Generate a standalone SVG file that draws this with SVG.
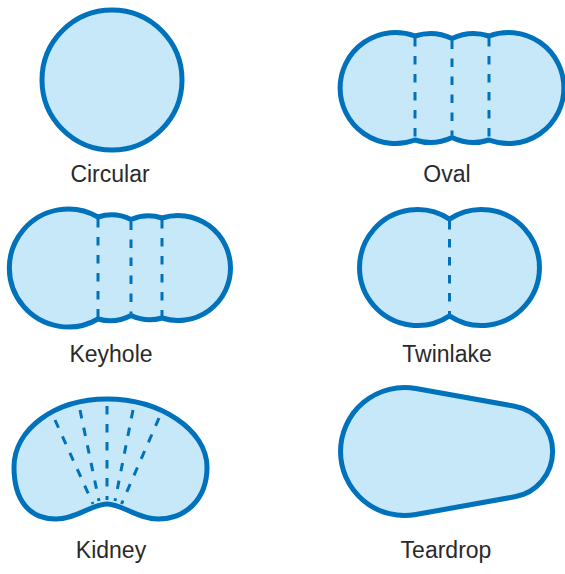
<svg xmlns="http://www.w3.org/2000/svg" width="565" height="574" viewBox="0 0 565 574">
  <style>
    .pool { fill: #c7e8f8; stroke: #0072bc; stroke-width: 5; stroke-linejoin: round; }
    .div { fill: none; stroke: #0072bc; stroke-width: 3; stroke-dasharray: 8.5 9.5; }
    .lbl { font-family: "Liberation Sans", Arial, sans-serif; font-size: 23px; fill: #2a2a2a; text-anchor: middle; }
  </style>
  <rect width="565" height="574" fill="#ffffff"/>

  <g id="circular">
    <circle class="pool" cx="112" cy="80" r="70"/>
    <text class="lbl" x="110" y="182">Circular</text>
  </g>

  <g id="oval">
    <path class="pool" d="M 415 36 A 50 50 0 0 1 452 38.5 A 50 50 0 0 1 489 36 A 55.5 55.5 0 1 1 489 140 A 50 50 0 0 1 452 137.5 A 50 50 0 0 1 415 140 A 55.5 55.5 0 1 1 415 36 Z"/>
    <path class="div" d="M 415 38 V 138 M 452 40.5 V 135.5 M 489 38 V 138"/>
    <text class="lbl" x="447" y="182">Oval</text>
  </g>

  <g id="keyhole">
    <path class="pool" d="M 98 217 A 45 45 0 0 1 131 219.5 A 45 45 0 0 1 162 218 A 52.5 52.5 0 1 1 162 318 A 45 45 0 0 1 131 315.5 A 45 45 0 0 1 98 319 A 59 59 0 1 1 98 217 Z"/>
    <path class="div" d="M 98 219 V 317 M 131 221.5 V 313.5 M 162 220 V 316"/>
    <text class="lbl" x="111" y="362">Keyhole</text>
  </g>

  <g id="twinlake">
    <path class="pool" d="M 449.5 219.1 A 58 58 0 1 1 449.5 315.9 A 58 58 0 1 1 449.5 219.1 Z"/>
    <path class="div" d="M 449.5 221 V 314"/>
    <text class="lbl" x="447" y="362">Twinlake</text>
  </g>

  <g id="kidney">
    <path class="pool" d="M 107 399 C 160 399 207 430 207 467 C 207 500 185 519 158 519 C 138 519 122 504 107 504 C 92 504 76 519 56 519 C 29 519 14 500 14 467 C 14 430 54 399 107 399 Z"/>
    <path class="div" d="M 55 420 L 93 504 M 80 410 L 99 501 M 107 406 L 107 500 M 133 410 L 115 501 M 159 418 L 121.5 504"/>
    <text class="lbl" x="111" y="558">Kidney</text>
  </g>

  <g id="teardrop">
    <path class="pool" d="M 415.8 388.5 L 514.6 406.2 A 46 46 0 0 1 514.6 496.8 L 415.8 514.5 A 64 64 0 1 1 415.8 388.5 Z"/>
    <text class="lbl" x="446" y="558">Teardrop</text>
  </g>
</svg>
